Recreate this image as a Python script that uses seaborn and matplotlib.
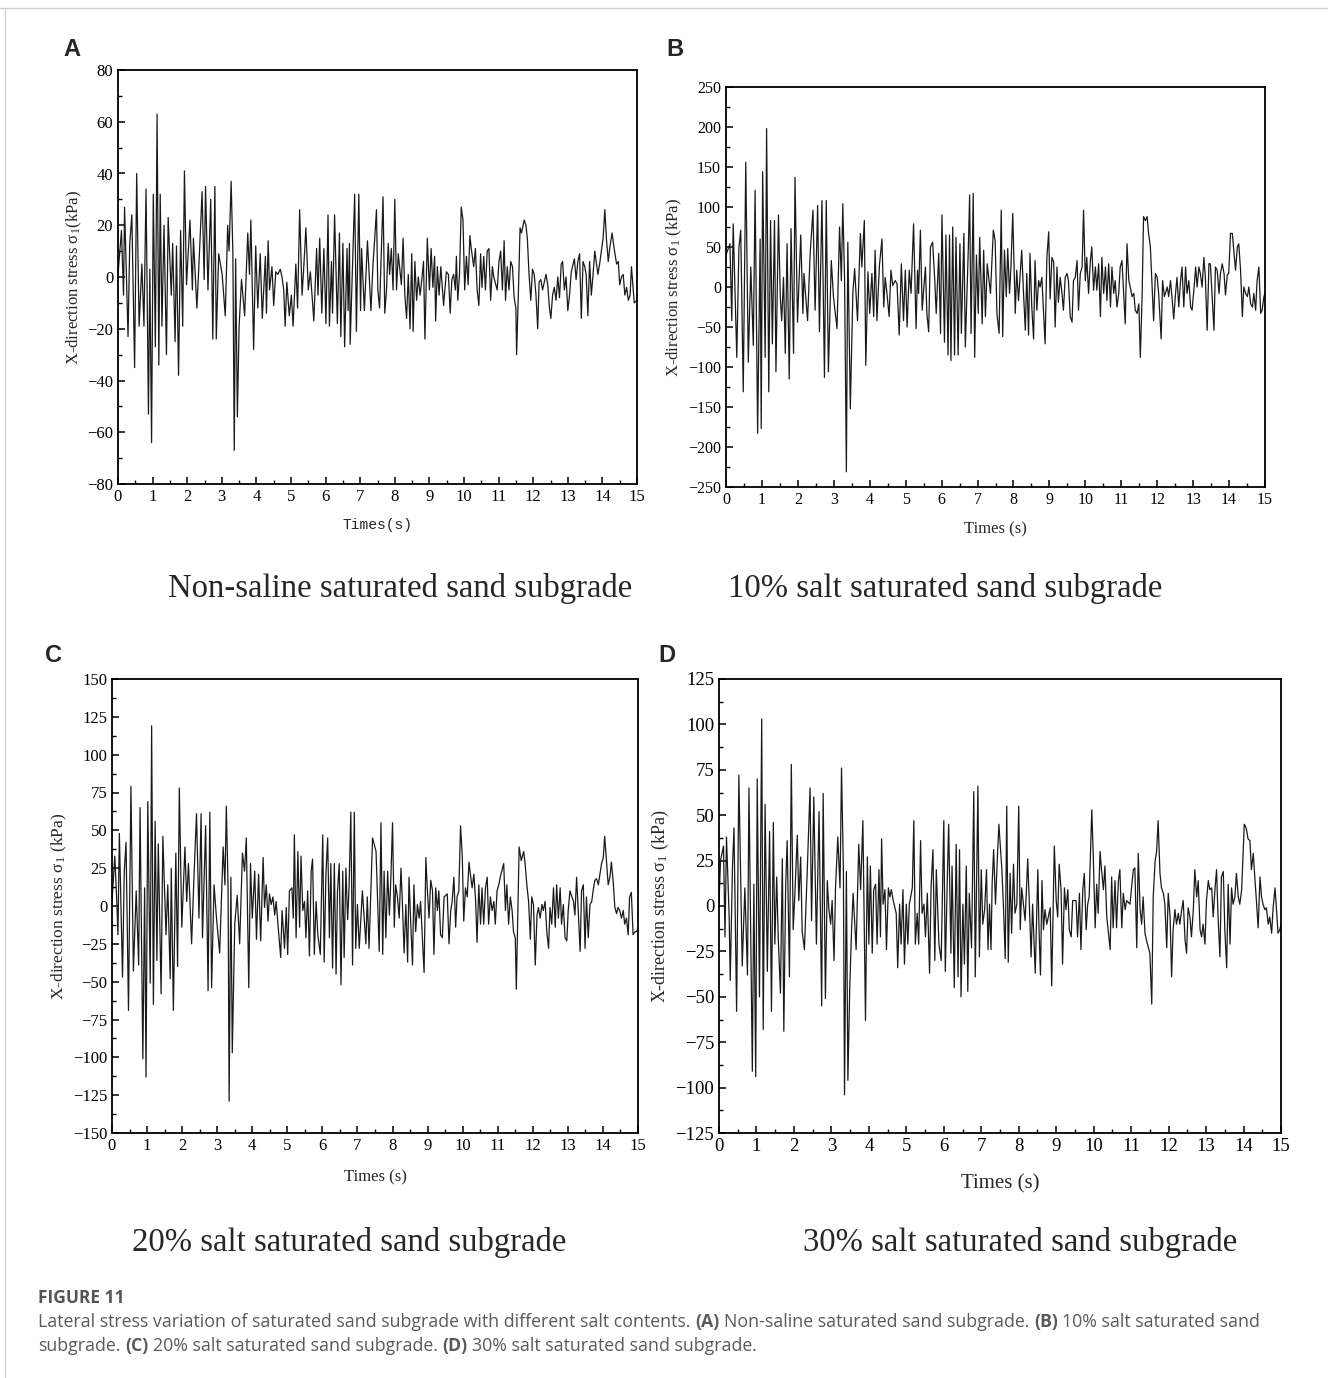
import numpy as np
import pandas as pd
import matplotlib
matplotlib.use("Agg")
import matplotlib.pyplot as plt
import seaborn as sns
from matplotlib.ticker import MultipleLocator
from matplotlib.lines import Line2D

sns.set_style("white")
plt.rcParams['font.family'] = ['Liberation Serif', 'DejaVu Serif']
plt.rcParams['mathtext.fontset'] = 'stix'

# ---------------- data ----------------
a_time = [0.00,0.10,0.16,0.19,0.29,0.34,0.40,0.48,0.54,0.61,
          0.69,0.75,0.81,0.88,0.92,0.97,1.02,1.08,1.13,1.18,
          1.22,1.27,1.33,1.40,1.45,1.54,1.58,1.65,1.69,1.75,
          1.81,1.87,1.92,1.98,2.08,2.15,2.18,2.28,2.36,2.43,
          2.49,2.53,2.60,2.68,2.74,2.80,2.84,2.91,3.01,3.10,
          3.17,3.21,3.27,3.32,3.36,3.40,3.45,3.50,3.57,3.66,
          3.75,3.80,3.84,3.92,3.98,4.04,4.11,4.17,4.26,4.29,
          4.34,4.38,4.45,4.50,4.56,4.62,4.69,4.74,4.79,4.83,
          4.88,4.95,5.01,5.06,5.14,5.19,5.25,5.32,5.37,5.43,
          5.50,5.56,5.66,5.74,5.78,5.83,5.89,5.95,6.01,6.07,
          6.11,6.17,6.20,6.26,6.34,6.40,6.44,6.50,6.55,6.62,
          6.65,6.69,6.71,6.78,6.84,6.89,6.96,7.01,7.04,7.12,
          7.21,7.31,
          7.37,7.42,7.47,7.51,7.56,7.66,7.71,7.76,7.81,7.85,
          7.90,7.95,8.00,8.05,8.10,8.19,8.24,8.29,8.34,8.39,
          8.44,8.49,8.53,8.58,8.63,8.68,8.73,8.78,8.83,8.87,
          8.94,9.00,9.05,9.10,9.15,9.18,9.23,9.28,9.33,9.41,
          9.49,9.55,9.60,9.65,9.70,9.75,9.78,9.82,9.87,9.92,
          9.97,10.02,10.07,10.12,10.17,10.21,10.28,10.33,10.38,10.43,
          10.48,10.52,10.57,10.62,10.67,10.72,10.77,10.82,10.86,10.96,
          11.01,11.06,11.11,11.16,11.20,11.25,11.30,11.35,11.40,11.45,
          11.50,11.52,11.57,11.62,11.66,11.74,11.79,11.83,11.88,11.93,
          11.98,12.03,12.08,12.13,12.17,12.22,12.27,12.32,12.37,12.42,
          12.47,12.51,12.56,12.61,12.66,12.71,12.76,12.81,12.85,12.90,
          12.95,13.00,13.05,13.10,13.19,13.24,13.29,13.34,13.39,13.44,
          13.49,13.53,13.58,13.63,13.68,13.73,13.78,13.87,13.92,13.97,
          14.02,14.07,14.12,14.17,14.21,14.28,14.34,14.41,14.46,14.50,
          14.55,14.60,14.65,14.70,14.75,14.80,14.84,14.92,15.00]
a_stress = [1,18,-7,27,-23,13,24,-35,40,-19,
            5,-19,34,-53,3,-64,32,-27,63,-34,
            32,-19,20,-30,23,-7,13,-25,12,-38,
            18,-19,41,-3,22,-5,15,-12,11,33,
            -1,35,-5,30,-24,35,-24,9,1,-15,
            20,10,37,9,-67,7,-54,-19,-1,-15,
            17,1,22,-28,12,-12,9,-16,8,-14,
            14,-5,4,-11,2,1,3,0,-5,-19,
            -2,-15,-7,-19,5,-12,26,-7,4,19,
            -5,2,-17,11,-7,15,-14,11,-18,24,
            -19,6,-14,24,-18,17,-23,13,-27,11,
            -13,13,-26,6,32,-21,32,-13,11,-13,
            14,-13,
            5,15,26,-5,-12,31,-14,-5,13,1,
            11,-5,30,-5,9,-3,15,-7,-16,1,
            -20,9,-21,6,-9,0,-7,-1,6,-24,
            15,-5,11,-4,8,-17,4,-7,4,-11,
            2,1,-14,-1,1,-5,8,-9,1,27,
            22,-5,8,-3,16,11,4,11,-5,-11,
            9,-4,8,-5,10,11,-9,4,0,-5,
            6,10,-5,14,-9,4,-5,6,4,-8,
            -12,-30,-7,19,17,22,20,15,1,-9,
            3,1,-7,-20,-2,-1,-5,-2,1,-3,
            -12,-16,-7,-4,-9,0,-8,5,6,-5,
            0,-13,-7,2,7,-1,6,9,-16,6,
            4,1,-15,6,-7,1,10,1,5,10,
            15,26,14,6,11,17,11,5,6,-3,
            0,1,-7,-4,-9,-7,4,-10,-9]

b_time = [0.00,0.11,0.16,0.20,0.30,0.36,0.41,0.48,0.55,0.62,
          0.69,0.76,0.81,0.88,0.95,0.98,1.02,1.09,1.13,1.19,
          1.24,1.29,1.35,1.39,1.46,1.51,1.55,1.60,1.65,1.70,
          1.76,1.81,1.88,1.92,1.99,2.08,2.14,2.17,2.27,2.34,
          2.42,2.48,2.55,2.60,2.67,2.74,2.79,2.85,2.93,2.99,
          3.09,3.16,3.21,3.25,3.30,3.35,3.39,3.46,3.53,3.58,
          3.66,3.74,3.78,3.85,3.89,3.95,4.00,4.06,4.11,4.15,
          4.20,4.27,4.34,4.39,4.43,4.48,4.54,4.59,4.64,4.71,
          4.76,4.82,4.88,4.94,4.99,5.04,5.10,5.15,5.22,5.29,
          5.33,5.36,5.41,5.46,5.50,5.55,5.59,5.64,5.69,5.75,
          5.81,5.85,5.92,5.97,6.01,6.08,6.12,6.18,6.22,6.26,
          6.31,6.36,6.40,6.46,6.51,6.55,6.62,6.66,6.74,6.78,
          6.82,6.88,6.92,6.97,7.02,7.06,7.13,7.17,7.22,7.27,
          7.36,
          7.44,7.49,7.54,7.60,7.66,7.70,7.75,7.80,7.84,7.89,
          7.93,7.98,8.05,8.09,8.14,8.19,8.23,8.28,8.33,8.37,
          8.42,8.46,8.51,8.56,8.60,8.65,8.70,8.74,8.79,8.88,
          8.93,8.98,9.02,9.07,9.12,9.16,9.21,9.25,9.30,9.35,
          9.39,9.44,9.49,9.53,9.58,9.63,9.67,9.72,9.77,9.81,
          9.86,9.91,9.95,10.00,10.04,10.09,10.14,10.18,10.23,10.28,
          10.32,10.37,10.42,10.46,10.51,10.56,10.60,10.65,10.70,10.74,
          10.79,10.83,10.88,10.93,10.97,11.02,11.11,11.16,11.21,11.25,
          11.30,11.35,11.39,11.44,11.49,11.53,11.58,11.62,11.67,11.72,
          11.76,11.81,11.86,11.90,11.95,12.00,12.04,12.11,12.15,12.20,
          12.28,12.32,12.37,12.41,12.46,12.51,12.55,12.60,12.65,12.69,
          12.74,12.79,12.83,12.88,12.93,12.97,13.02,13.07,13.11,13.16,
          13.20,13.25,13.30,13.34,13.39,13.44,13.48,13.53,13.58,13.62,
          13.67,13.72,13.76,13.81,13.86,13.90,13.95,13.99,14.04,14.09,
          14.13,14.18,14.23,14.27,14.32,14.37,14.41,14.46,14.51,14.55,
          14.60,14.65,14.69,14.74,14.78,14.83,14.88,14.92,14.97,15.00]
b_stress = [40,54,-42,79,-88,50,71,-131,156,-94,
            25,-73,121,-183,60,-177,144,-88,198,-131,
            83,-71,83,-106,90,-12,-42,12,-83,54,
            -115,73,-83,137,-44,65,-33,17,-42,40,
            96,-29,102,-56,108,-113,108,-106,33,-12,
            -52,75,8,104,10,-231,56,-152,-8,23,
            -42,67,25,83,-98,19,-33,17,-37,46,
            -42,27,60,-25,12,-8,-37,21,2,8,
            4,-60,29,-42,21,-50,21,-8,79,-52,
            21,-8,71,-29,-4,25,-33,-56,50,56,
            8,-33,42,-58,90,-69,65,-85,65,-92,
            75,-85,62,-85,54,-58,67,-75,42,115,
            -58,117,-88,40,-33,62,-46,46,-37,29,
            -8,
            71,58,-33,-58,96,-62,46,-12,48,-8,
            25,92,-33,21,-17,17,46,-8,-54,17,
            -60,42,-25,-65,33,-29,8,0,12,-71,
            37,69,-15,37,31,-50,25,-19,12,-8,
            -29,12,17,8,-37,-44,8,12,33,-29,
            17,25,96,8,37,-8,33,50,-4,25,
            -4,29,-37,37,-8,25,-17,29,-25,25,
            -8,8,-25,-8,25,33,-46,54,8,0,
            -12,-8,-29,-33,-21,-88,-12,88,83,88,
            67,50,0,-42,17,12,-8,-65,8,-12,
            0,-12,8,-12,-40,-8,12,-25,8,25,
            -25,25,-8,8,-25,-29,-4,25,0,25,
            17,0,37,12,-54,29,29,-12,-54,25,
            21,-8,17,29,17,-10,15,17,67,67,
            46,21,50,54,21,-37,0,-8,-12,0,
            -21,-25,-8,-29,8,25,-33,-29,-12,-8]

c_time = [0.00,0.08,0.14,0.17,0.21,0.30,0.35,0.40,0.47,0.54,
          0.61,0.69,0.76,0.80,0.88,0.93,0.97,1.02,1.09,1.13,
          1.18,1.23,1.28,1.32,1.40,1.45,1.54,1.59,1.66,1.69,
          1.75,1.82,1.87,1.92,1.99,2.08,2.13,2.18,2.27,2.34,
          2.41,2.48,2.54,2.58,2.67,2.74,2.79,2.84,2.91,2.98,
          3.07,3.17,3.22,3.26,3.31,3.34,3.39,3.43,3.50,3.57,
          3.64,3.72,3.78,3.83,3.90,3.95,4.00,4.07,4.12,4.18,
          4.24,4.31,4.35,4.40,4.45,4.49,4.54,4.59,4.64,4.68,
          4.81,4.85,4.92,4.97,5.01,5.06,5.13,5.17,5.20,5.25,
          5.30,5.35,5.39,5.44,5.49,5.53,5.58,5.63,5.68,5.72,
          5.77,5.82,5.87,5.94,6.01,6.05,6.10,6.15,6.20,6.24,
          6.29,6.34,6.39,6.43,6.48,6.53,6.58,6.62,6.67,6.72,
          6.76,6.81,6.86,6.91,6.95,7.00,7.05,7.14,7.24,7.28,
          7.33,7.43,
          7.53,7.57,7.62,7.67,7.72,7.76,7.81,7.86,7.91,7.95,
          8.00,8.05,8.09,8.14,8.19,8.24,8.28,8.33,8.38,8.43,
          8.47,8.52,8.57,8.61,8.66,8.71,8.76,8.80,8.90,8.95,
          8.99,9.04,9.09,9.14,9.18,9.23,9.28,9.32,9.37,9.42,
          9.47,9.56,9.61,9.66,9.70,9.75,9.80,9.84,9.89,9.94,
          9.99,10.03,10.08,10.13,10.18,10.22,10.27,10.32,10.37,10.41,
          10.46,10.51,10.55,10.60,10.65,10.70,10.74,10.79,10.84,10.89,
          10.93,10.98,11.03,11.07,11.17,11.22,11.26,11.31,11.36,11.41,
          11.45,11.50,11.53,11.58,11.61,11.67,11.74,11.78,11.83,11.88,
          11.93,11.97,12.02,12.07,12.12,12.16,12.21,12.26,12.30,12.35,
          12.40,12.45,12.49,12.54,12.59,12.64,12.68,12.73,12.78,12.82,
          12.87,12.92,12.97,13.01,13.06,13.16,13.20,13.25,13.35,13.39,
          13.44,13.49,13.53,13.58,13.63,13.68,13.72,13.77,13.82,13.87,
          13.96,14.01,14.05,14.10,14.15,14.20,14.24,14.29,14.34,14.39,
          14.43,14.48,14.53,14.58,14.62,14.67,14.72,14.76,14.81,14.86,
          14.91,14.95,15.00]
c_stress = [3,33,1,-19,48,-47,23,42,-69,79,
            -43,10,-39,65,-101,12,-113,69,-51,119,
            -65,56,-36,41,-58,46,-19,14,-48,25,
            -69,35,-40,78,-14,39,3,28,-25,21,
            61,-8,61,-21,53,-56,62,-54,14,-8,
            -31,39,14,66,12,-129,19,-97,-12,7,
            -25,35,23,45,-54,28,-8,23,-22,21,
            -23,32,-1,14,-10,8,1,6,-6,3,
            -34,-3,-28,-1,-32,10,12,-8,47,-21,
            36,-14,33,-3,3,-21,10,-33,23,31,
            -32,3,-19,-32,47,-37,21,45,-21,28,
            -41,28,-45,10,28,-52,23,-34,25,-9,
            12,62,-39,62,-28,1,-28,10,-25,6,
            -28,45,
            36,6,-30,55,-32,23,-21,23,-6,17,
            55,-14,14,6,-8,25,3,-31,1,-37,
            19,-12,-39,14,-17,1,-8,3,-44,32,
            12,-8,17,10,-32,12,-3,10,-19,-21,
            6,8,-25,-3,3,19,-14,6,10,53,
            32,-10,12,6,29,21,12,21,3,-24,
            14,-12,12,-12,12,19,-12,6,-3,3,
            -12,10,14,19,28,-3,14,-12,6,-3,
            -17,-21,-55,3,39,30,36,28,14,3,
            -22,6,1,-39,-6,-1,-8,1,-3,3,
            -17,-28,-1,-12,12,-14,14,-8,12,-12,
            1,-21,-23,-3,10,3,-6,19,-30,10,
            14,-28,6,-21,1,3,10,17,18,14,
            28,32,46,30,14,19,29,17,-1,-5,
            -1,-3,-8,-3,-12,-8,-19,6,9,-19,
            -17,-17,-15]

d_time = [0.00,0.04,0.12,0.16,0.20,0.27,0.30,0.36,0.40,0.47,
          0.53,0.62,0.69,0.76,0.80,0.89,0.93,0.98,1.02,1.08,
          1.14,1.18,1.23,1.29,1.35,1.40,1.45,1.49,1.54,1.58,
          1.64,1.69,1.73,1.78,1.82,1.88,1.93,1.98,2.03,2.09,
          2.13,2.18,2.22,2.28,2.36,2.43,2.47,2.53,2.60,2.67,
          2.74,2.78,2.84,2.89,2.93,2.98,3.02,3.07,3.11,3.17,
          3.23,3.27,3.32,3.35,3.40,3.44,3.49,3.54,3.58,3.66,
          3.73,3.78,3.84,3.91,3.96,4.00,4.04,4.09,4.13,4.18,
          4.22,4.27,4.31,4.34,4.38,4.43,4.47,4.52,4.56,4.60,
          4.65,4.73,4.77,4.82,4.86,4.91,4.95,5.00,5.04,5.08,
          5.16,5.20,5.24,5.29,5.33,5.38,5.42,5.47,5.51,5.56,
          5.62,5.66,5.71,5.76,5.80,5.87,5.93,6.00,6.04,6.09,
          6.13,6.19,6.22,6.28,6.33,6.38,6.42,6.46,6.51,6.55,
          6.60,6.64,6.68,6.74,6.80,6.84,6.91,6.95,7.00,7.04,
          7.09,7.14,7.18,7.22,7.26,7.29,7.33,7.38,7.42,7.47,
          7.55,7.59,7.64,7.68,7.72,7.77,7.81,7.86,7.90,7.95,
          8.00,8.04,8.08,8.17,8.24,8.28,8.33,8.37,8.44,8.51,
          8.54,8.58,8.62,8.66,8.70,8.75,8.84,8.88,8.95,9.00,
          9.04,9.08,9.13,9.17,9.22,9.26,9.31,9.35,9.40,9.44,
          9.53,9.57,9.62,9.66,9.71,9.75,9.80,9.84,9.88,9.95,
          9.99,10.04,10.08,10.12,10.17,10.21,10.26,10.30,10.35,10.44,
          10.48,10.52,10.57,10.61,10.66,10.70,10.75,10.79,10.84,10.88,
          10.97,11.01,11.06,11.10,11.15,11.19,11.24,11.28,11.32,11.37,
          11.41,11.50,11.55,11.59,11.64,11.68,11.72,11.77,11.81,11.86,
          11.90,11.95,11.99,12.04,12.08,12.12,12.17,12.21,12.26,12.30,
          12.35,12.39,12.44,12.48,12.52,12.57,12.61,12.66,12.70,12.75,
          12.79,12.84,12.88,12.92,12.97,13.01,13.06,13.10,13.15,13.19,
          13.24,13.28,13.32,13.37,13.41,13.46,13.50,13.55,13.59,13.64,
          13.68,13.72,13.77,13.81,13.86,13.90,13.95,14.02,14.05,14.08,
          14.12,14.17,14.21,14.26,14.30,14.35,14.39,14.44,14.48,14.52,
          14.57,14.61,14.66,14.70,14.75,14.79,14.84,14.88,14.92,14.97,
          15.00]
d_stress = [1,25,33,-17,38,-5,-41,22,43,-58,
            72,-33,10,-38,65,-91,12,-94,70,-50,
            103,-68,56,-36,41,-58,46,-21,16,-17,
            -48,26,-69,12,36,-39,78,-13,9,39,
            3,27,-14,-24,22,65,-8,60,-21,52,
            -55,62,-51,14,-1,-10,3,-30,10,38,
            10,76,20,-104,19,-96,-45,-12,7,-24,
            34,9,47,-63,27,-21,22,-26,9,12,
            -21,20,-17,37,1,9,-24,10,5,9,
            3,-4,-34,1,-21,9,-32,1,-21,1,
            10,47,-21,-4,-21,36,-4,1,-17,7,
            -37,10,31,-30,20,-21,-30,47,-36,12,
            45,-26,22,-45,34,-39,31,-50,1,-32,
            22,-47,7,-23,63,-39,66,-28,20,-10,
            -2,20,-24,1,-24,12,31,1,22,45,
            20,1,-29,55,-31,18,-15,23,-4,1,
            55,-13,10,-8,26,3,-28,1,-37,20,
            -12,-38,14,-13,-2,-10,-1,-44,33,3,
            -6,23,9,-32,10,-2,9,-13,-17,3,
            3,-17,7,-24,9,18,-13,1,5,53,
            27,-12,12,-4,30,20,9,22,-6,-24,
            16,-12,14,-12,14,20,-12,7,-2,3,
            1,10,20,21,-23,29,-2,-10,5,-15,
            -19,-26,-54,5,25,30,47,18,10,7,
            1,-23,7,-6,-39,-13,-2,-10,-4,-10,
            -2,3,-19,-26,-1,-6,-17,-2,20,5,
            14,-13,-17,-10,-21,3,14,9,10,-6,
            10,20,-6,-28,16,19,-13,-34,12,-21,
            10,1,5,18,5,1,9,45,44,42,
            37,36,20,29,16,1,-12,16,5,1,
            -2,-1,-10,-6,-15,-1,10,-2,-15,-13,
            -10]

panel_letters = ["A", "B", "C", "D"]
panel_titles = ["Non-saline saturated sand subgrade",
                "10% salt saturated sand subgrade",
                "20% salt saturated sand subgrade",
                "30% salt saturated sand subgrade"]
y_limits = [(-80, 80), (-250, 250), (-150, 150), (-125, 125)]
y_major = [20, 50, 25, 25]
x_labels = ["Times(s)", "Times (s)", "Times (s)", "Times (s)"]
y_labels = [r"X-direction stress σ$_\mathregular{1}$(kPa)",
            r"X-direction stress σ$_\mathregular{1}$ (kPa)",
            r"X-direction stress σ$_\mathregular{1}$ (kPa)",
            r"X-direction stress σ$_\mathregular{1}$ (kPa)"]
series = [(a_time, a_stress), (b_time, b_stress),
          (c_time, c_stress), (d_time, d_stress)]

# ---------------- layout ----------------
W, H = 1328, 1378
fig = plt.figure(figsize=(W / 100, H / 100), dpi=100)
fig.patch.set_facecolor("white")

def rect(x0, y0, x1, y1):
    return [x0 / W, 1 - y1 / H, (x1 - x0) / W, (y1 - y0) / H]

ax_rects = [rect(118, 70, 637, 484), rect(726, 87, 1265, 487),
            rect(112, 679, 638, 1133), rect(719, 679, 1281, 1133)]
tick_fs = [12, 11.5, 12, 13.5]
xlab_fs = [10.5, 12, 12, 15]
ylab_fs = [12, 12, 12.5, 13]
xlab_family = [["Liberation Mono"], ["Liberation Serif"], ["Liberation Serif"], ["Liberation Serif"]]
xlab_y = [-0.082, -0.085, -0.081, -0.090]
ylab_x = [-0.066, -0.078, -0.082, -0.085]
letter_pos = [(72, 50), (675, 50), (54, 656), (667, 656)]
title_pos = [(400, 588), (945, 588), (349, 1242), (1020, 1242)]

for i in range(4):
    ax = fig.add_axes(ax_rects[i])
    t, v = series[i]
    n = min(len(t), len(v))
    df = pd.DataFrame({"time": t[:n], "stress": v[:n]})
    sns.lineplot(data=df, x="time", y="stress", ax=ax, color="#1a1a1a",
                 linewidth=0.9, estimator=None, sort=False, legend=False)
    ax.set_xlim(0, 15)
    ax.set_ylim(*y_limits[i])
    ax.xaxis.set_major_locator(MultipleLocator(1))
    ax.xaxis.set_minor_locator(MultipleLocator(0.5))
    ax.yaxis.set_major_locator(MultipleLocator(y_major[i]))
    ax.yaxis.set_minor_locator(MultipleLocator(y_major[i] / 2))
    ax.tick_params(axis="both", which="both", direction="in",
                   top=False, right=False, bottom=True, left=True,
                   colors="black", labelsize=tick_fs[i])
    ax.tick_params(which="major", length=5, width=1.1)
    ax.tick_params(which="minor", length=3, width=1.0)
    for s in ax.spines.values():
        s.set_visible(True)
        s.set_color("black")
        s.set_linewidth(1.3)
    ax.set_xlabel(x_labels[i], fontsize=xlab_fs[i], family=xlab_family[i])
    ax.set_ylabel(y_labels[i], fontsize=ylab_fs[i])
    ax.xaxis.set_label_coords(0.5, xlab_y[i])
    ax.yaxis.set_label_coords(ylab_x[i], 0.5)
    ax.grid(False)

    lx, ly = letter_pos[i]
    fig.text(lx / W, 1 - ly / H, panel_letters[i], fontsize=17,
             fontweight="bold", family=["Liberation Sans", "DejaVu Sans"],
             ha="center", va="center")
    tx, ty = title_pos[i]
    fig.text(tx / W, 1 - ty / H, panel_titles[i], fontsize=23.6,
             ha="center", va="center")

# ---------------- caption ----------------
cap_family = ["Open Sans", "DejaVu Sans"]
cap_fs = 12.8
fig.text(38 / W, 1 - 1298 / H, "FIGURE 11", fontsize=12.5, color="#555555",
         fontweight="bold", family=cap_family, ha="left", va="center")

renderer = fig.canvas.get_renderer()

def text_width(s, weight):
    t = fig.text(0, 0, s, fontsize=cap_fs, family=cap_family, fontweight=weight)
    w = t.get_window_extent(renderer).width
    t.remove()
    return w

sp_w = text_width("a a", "normal") - text_width("aa", "normal")

def rich_line(x_px, y_px, segments):
    x = x_px
    for s, bold in segments:
        weight = "bold" if bold else "normal"
        lead = len(s) - len(s.lstrip(" "))
        trail = len(s) - len(s.rstrip(" "))
        core = s.strip(" ")
        x += lead * sp_w
        t = fig.text(x / W, 1 - y_px / H, core, fontsize=cap_fs, family=cap_family,
                     fontweight=weight, color="#5a5a5a", ha="left", va="center")
        x += t.get_window_extent(renderer).width + trail * sp_w

rich_line(38, 1322, [
    ("Lateral stress variation of saturated sand subgrade with different salt contents. ", False),
    ("(A)", True), (" Non-saline saturated sand subgrade. ", False),
    ("(B)", True), (" 10% salt saturated sand", False)])
rich_line(38, 1346, [
    ("subgrade. ", False), ("(C)", True), (" 20% salt saturated sand subgrade. ", False),
    ("(D)", True), (" 30% salt saturated sand subgrade.", False)])

# thin frame lines of the page
fig.add_artist(Line2D([0, 1], [1 - 8 / H, 1 - 8 / H], transform=fig.transFigure,
                      color="#d0d0d0", linewidth=1))
fig.add_artist(Line2D([5 / W, 5 / W], [0, 1 - 8 / H], transform=fig.transFigure,
                      color="#d0d0d0", linewidth=1))

fig.savefig("out.png", dpi=100, facecolor="white")
